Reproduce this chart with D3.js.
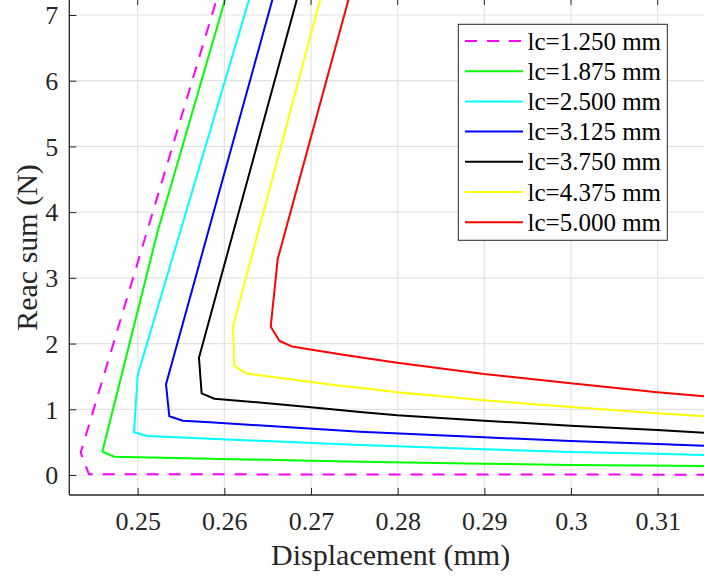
<!DOCTYPE html>
<html><head><meta charset="utf-8">
<script src="https://cdn.jsdelivr.net/npm/d3@7"></script>
<style>body{margin:0;background:#fff}svg{display:block}</style>
</head><body>
<svg id="c" width="704" height="579"></svg>
<script>
// ---------- data ----------
const seriesNames = ["lc=1.250 mm","lc=1.875 mm","lc=2.500 mm","lc=3.125 mm","lc=3.750 mm","lc=4.375 mm","lc=5.000 mm"];

const x_lc1250 = [0.2597,0.24342,0.24438,0.2800,0.31534];
const y_lc1250 = [7.5,0.339,0.011,0.008,0.005];

const x_lc1875 = [0.26067,0.25235,0.24592,0.2473,0.25834,0.27565,0.28996,0.29996,0.31534];
const y_lc1875 = [7.5,3.728,0.355,0.278,0.248,0.202,0.172,0.152,0.137];

const x_lc2500 = [0.26345,0.2500,0.24957,0.25115,0.25834,0.27565,0.28996,0.29996,0.30995,0.31534];
const y_lc2500 = [7.5,1.522,0.650,0.593,0.552,0.457,0.391,0.350,0.324,0.304];

const x_lc3125 = [0.2661,0.25327,0.25365,0.25523,0.25834,0.27565,0.28996,0.29996,0.30995,0.31534];
const y_lc3125 = [7.5,1.380,0.893,0.826,0.802,0.659,0.574,0.517,0.472,0.446];

const x_lc3750 = [0.26891,0.25707,0.25738,0.25886,0.26500,0.27000,0.27565,0.27995,0.28996,0.29996,0.30995,0.31534];
const y_lc3750 = [7.5,1.785,1.243,1.160,1.092,1.030,0.960,0.908,0.826,0.750,0.685,0.644];

const x_lc4375 = [0.27159,0.2610,0.26115,0.26258,0.27334,0.27565,0.27995,0.28996,0.29996,0.30995,0.31534];
const y_lc4375 = [7.5,2.263,1.662,1.543,1.359,1.328,1.258,1.137,1.035,0.939,0.893];

const x_lc5000 = [0.27487,0.26615,0.26535,0.26637,0.2678,0.27334,0.27565,0.27995,0.28996,0.29996,0.30995,0.31534];
const y_lc5000 = [7.5,3.282,2.257,2.039,1.957,1.837,1.791,1.709,1.537,1.395,1.258,1.198];

const xTicks = [0.25,0.26,0.27,0.28,0.29,0.30,0.31];
const xTickLabels = ["0.25","0.26","0.27","0.28","0.29","0.3","0.31"];
const yTicks = [0,1,2,3,4,5,6,7];
const yTickLabels = ["0","1","2","3","4","5","6","7"];
const xTitle = "Displacement (mm)";
const yTitle = "Reac sum (N)";

// ---------- styles ----------
const colors = ["#ff00ff","#00ff00","#00ffff","#0000ff","#000000","#ffff00","#ff0000"];
const dashes = ["12,10",null,null,null,null,null,null];
const FONT = "'Liberation Serif','Times New Roman',serif";

const xsAll = [x_lc1250,x_lc1875,x_lc2500,x_lc3125,x_lc3750,x_lc4375,x_lc5000];
const ysAll = [y_lc1250,y_lc1875,y_lc2500,y_lc3125,y_lc3750,y_lc4375,y_lc5000];
const series = seriesNames.map((n,i)=>({name:n, pts: xsAll[i].map((x,j)=>[x, ysAll[i][j]])}));

// ---------- layout ----------
const L = 69.3, R = 704, T = 0, B = 495;
const x = d3.scaleLinear().domain([0.24211,0.31534]).range([L,R]);
const y = d3.scaleLinear().domain([-0.3044,7.2283]).range([B,T]);

const svg = d3.select("#c");
svg.append("defs").append("clipPath").attr("id","clip")
  .append("rect").attr("x",L).attr("y",T-2).attr("width",R-L+2).attr("height",B-T+2);

// grid
const grid = svg.append("g");
grid.selectAll("line.gx").data(xTicks).join("line")
  .attr("x1",d=>x(d)).attr("x2",d=>x(d)).attr("y1",T).attr("y2",B)
  .attr("stroke","#e3e3e3").attr("stroke-width",1.2);
grid.selectAll("line.gy").data(yTicks).join("line")
  .attr("x1",L).attr("x2",R).attr("y1",d=>y(d)).attr("y2",d=>y(d))
  .attr("stroke","#e3e3e3").attr("stroke-width",1.2);

// lines
const lineStraight = d3.line().x(d=>x(d[0])).y(d=>y(d[1]));
const gl = svg.append("g").attr("clip-path","url(#clip)");
series.forEach((s,i)=>{
  gl.append("path").attr("d",lineStraight(s.pts)).attr("fill","none")
    .attr("stroke",colors[i]).attr("stroke-width",2)
    .attr("stroke-linejoin","round")
    .attr("stroke-dasharray",dashes[i]);
});

// axes
const axColor = "#262626";
const xAxis = svg.append("g").attr("transform",`translate(0,${B})`)
  .call(d3.axisBottom(x).tickValues(xTicks).tickFormat((d,i)=>xTickLabels[i]).tickSize(-7).tickSizeOuter(0).tickPadding(17));
const yAxis = svg.append("g").attr("transform",`translate(${L},0)`)
  .call(d3.axisLeft(y).tickValues(yTicks).tickFormat((d,i)=>yTickLabels[i]).tickSize(-7).tickSizeOuter(0).tickPadding(11));
[xAxis,yAxis].forEach(g=>{
  g.select(".domain").attr("stroke",axColor).attr("stroke-width",1.3);
  g.selectAll(".tick line").attr("stroke",axColor).attr("stroke-width",1);
  g.selectAll(".tick text").attr("fill","#262626").style("font-family",FONT).style("font-size","26px");
});
xAxis.select(".domain").attr("d",`M${L},0H${R}`);
yAxis.select(".domain").attr("d",`M0,${B}V${T}`);
yAxis.selectAll(".tick text").attr("dy","0.34em");

// top ticks
svg.append("g").selectAll("line").data(xTicks).join("line")
  .attr("x1",d=>x(d)).attr("x2",d=>x(d)).attr("y1",-2).attr("y2",5)
  .attr("stroke",axColor).attr("stroke-width",1);

// titles
svg.append("text").attr("x",(L+R)/2+4).attr("y",565).attr("text-anchor","middle")
  .style("font-family",FONT).style("font-size","30px").attr("fill","#262626").text(xTitle);
svg.append("text").attr("transform",`translate(37,${(B+T)/2}) rotate(-90)`).attr("text-anchor","middle")
  .style("font-family",FONT).style("font-size","30px").attr("fill","#262626").text(yTitle);

// legend
const lg = svg.append("g");
lg.append("rect").attr("x",458.3).attr("y",24.3).attr("width",209).attr("height",216)
  .attr("fill","#fff").attr("stroke",axColor).attr("stroke-width",1);
series.forEach((s,i)=>{
  const cy = 41 + i*30.2;
  lg.append("line").attr("x1",465).attr("x2",523).attr("y1",cy).attr("y2",cy)
    .attr("stroke",colors[i]).attr("stroke-width",2).attr("stroke-dasharray",dashes[i]);
  lg.append("text").attr("x",527.5).attr("y",cy).attr("dy","0.34em")
    .style("font-family",FONT).style("font-size","25px").attr("fill","#000").text(s.name);
});
</script>
</body></html>
